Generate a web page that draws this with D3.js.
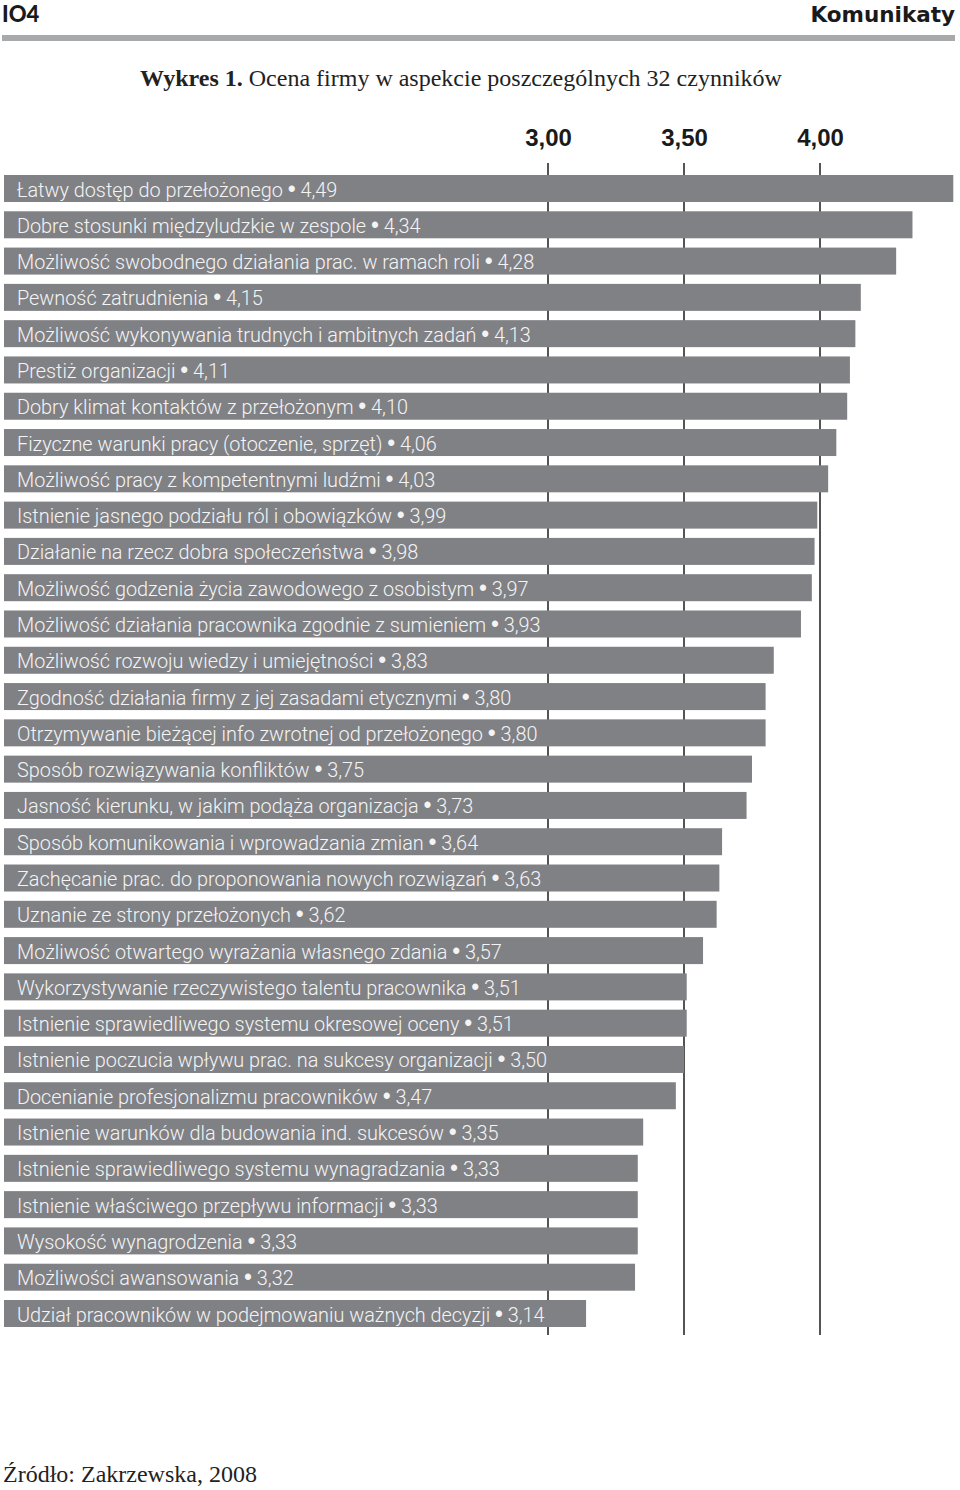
<!DOCTYPE html>
<html><head><meta charset="utf-8">
<script src="https://cdn.jsdelivr.net/npm/d3@7"></script>
<style>
body{margin:0;background:#fff;}
svg{display:block;}
</style></head>
<body>
<svg id="chart" width="960" height="1490"></svg>
<script>
const categories = [
"Łatwy dostęp do przełożonego",
"Dobre stosunki międzyludzkie w zespole",
"Możliwość swobodnego działania prac. w ramach roli",
"Pewność zatrudnienia",
"Możliwość wykonywania trudnych i ambitnych zadań",
"Prestiż organizacji",
"Dobry klimat kontaktów z przełożonym",
"Fizyczne warunki pracy (otoczenie, sprzęt)",
"Możliwość pracy z kompetentnymi ludźmi",
"Istnienie jasnego podziału ról i obowiązków",
"Działanie na rzecz dobra społeczeństwa",
"Możliwość godzenia życia zawodowego z osobistym",
"Możliwość działania pracownika zgodnie z sumieniem",
"Możliwość rozwoju wiedzy i umiejętności",
"Zgodność działania firmy z jej zasadami etycznymi",
"Otrzymywanie bieżącej info zwrotnej od przełożonego",
"Sposób rozwiązywania konfliktów",
"Jasność kierunku, w jakim podąża organizacja",
"Sposób komunikowania i wprowadzania zmian",
"Zachęcanie prac. do proponowania nowych rozwiązań",
"Uznanie ze strony przełożonych",
"Możliwość otwartego wyrażania własnego zdania",
"Wykorzystywanie rzeczywistego talentu pracownika",
"Istnienie sprawiedliwego systemu okresowej oceny",
"Istnienie poczucia wpływu prac. na sukcesy organizacji",
"Docenianie profesjonalizmu pracowników",
"Istnienie warunków dla budowania ind. sukcesów",
"Istnienie sprawiedliwego systemu wynagradzania",
"Istnienie właściwego przepływu informacji",
"Wysokość wynagrodzenia",
"Możliwości awansowania",
"Udział pracowników w podejmowaniu ważnych decyzji"
];
const values = [4.49,4.34,4.28,4.15,4.13,4.11,4.10,4.06,4.03,3.99,3.98,3.97,3.93,3.83,3.80,3.80,3.75,3.73,3.64,3.63,3.62,3.57,3.51,3.51,3.50,3.47,3.35,3.33,3.33,3.33,3.32,3.14];
const tickValues = [3.00, 3.50, 4.00];
const tickLabels = ["3,00", "3,50", "4,00"];
const title = ["Wykres 1.", " Ocena firmy w aspekcie poszczególnych 32 czynników"];
const source = "Źródło: Zakrzewska, 2008";
const pageNumber = "IO4";
const journal = "Komunikaty";

const data = categories.map((c,i)=>({c, v: values[i]}));
const fmt = v => d3.format(".2f")(v).replace(".", ",");

const svg = d3.select("#chart");

// Header
svg.append("text").attr("x",2).attr("y",22)
  .attr("font-family","Lato, 'DejaVu Sans', sans-serif").attr("font-weight",900)
  .attr("font-size",22).attr("fill","#1a1a1a").text(pageNumber);
svg.append("text").attr("x",955).attr("y",22).attr("text-anchor","end")
  .attr("font-family","'DejaVu Sans', sans-serif").attr("font-weight","bold")
  .attr("font-size",21.5).attr("fill","#1a1a1a").text(journal);
svg.append("rect").attr("x",2).attr("y",35).attr("width",953).attr("height",6).attr("fill","#a8a9ab");

// Title
const t = svg.append("text").attr("x",461).attr("y",86).attr("text-anchor","middle")
  .attr("font-family","'Liberation Serif', serif").attr("font-size",24).attr("fill","#222");
t.append("tspan").attr("font-weight","bold").text(title[0]);
t.append("tspan").text(title[1]);

// Scales
const x = d3.scaleLinear().domain([1, 4.5]).range([4, 956]);
const y = d3.scaleBand().domain(categories).range([175, 1327]).paddingInner(0.256).paddingOuter(0);

// Tick lines
svg.append("g").selectAll("line").data(tickValues).join("line")
  .attr("x1",d=>x(d)).attr("x2",d=>x(d)).attr("y1",163).attr("y2",1335)
  .attr("stroke","#2a2a2a").attr("stroke-width",1.6);

// Tick labels via axis
const axis = svg.append("g").attr("transform","translate(0,149)")
  .call(d3.axisTop(x).tickValues(tickValues).tickFormat((d,i)=>tickLabels[i]).tickSize(0));
axis.select(".domain").remove();
axis.selectAll("text").attr("font-family","'Liberation Sans', Arial, sans-serif")
  .attr("font-weight","bold").attr("font-size",24).attr("fill","#1a1a1a").attr("dy",0);

// Bars
svg.append("g").selectAll("rect").data(data).join("rect")
  .attr("x",x(1)).attr("y",d=>y(d.c)).attr("width",d=>x(d.v)-x(1)).attr("height",y.bandwidth())
  .attr("fill","#808185");

// Labels (condensed via horizontal scale)
const lab = svg.append("g").selectAll("text").data(data).join("text")
  .attr("transform",d=>`translate(17,${y(d.c)+21.5}) scale(0.945,1)`)
  .attr("font-family","Roboto, 'Liberation Sans', sans-serif").attr("font-weight",300)
  .attr("font-size",21).attr("fill","#f4f4f4");
lab.append("tspan").text(d=>d.c + " ");
lab.append("tspan").attr("font-family","'Liberation Sans', sans-serif").attr("font-weight",400).attr("font-size",24).text("•");
lab.append("tspan").text(d=>" " + fmt(d.v));

// Source
svg.append("text").attr("x",3).attr("y",1482)
  .attr("font-family","'Liberation Serif', serif").attr("font-size",24).attr("fill","#222")
  .text(source);
</script>
</body></html>
